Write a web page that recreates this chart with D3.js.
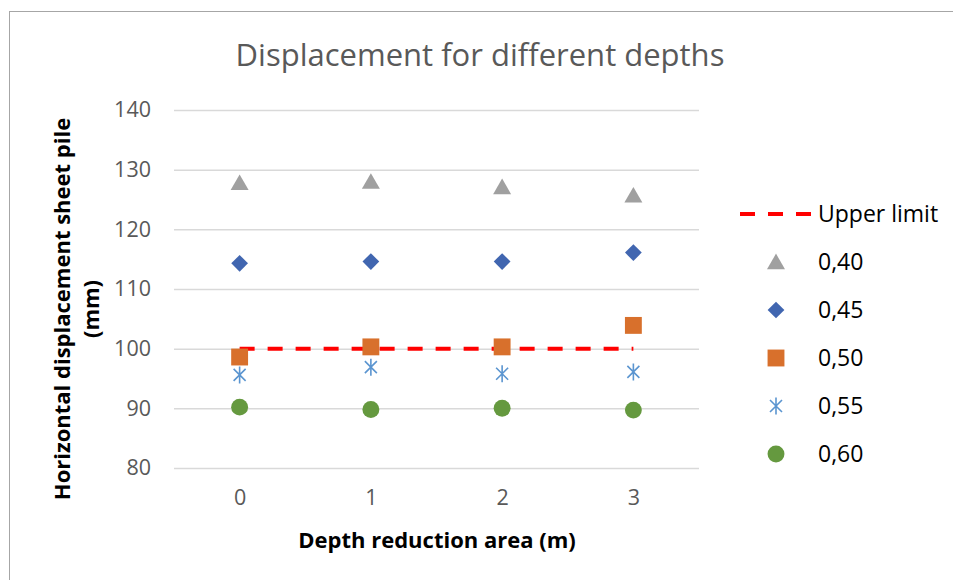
<!DOCTYPE html>
<meta charset="utf-8">
<style>
  body { margin: 0; background: #fff; }
  text { font-family: "Open Sans", "Noto Sans", sans-serif; }
</style>
<div id="chart"></div>
<script src="https://cdn.jsdelivr.net/npm/d3@7"></script>
<script>

// data
var depths = [0, 1, 2, 3];
var yTicks = [80, 90, 100, 110, 120, 130, 140];
var seriesNames = ["0,40", "0,45", "0,50", "0,55", "0,60"];
var upperLimit = [100, 100, 100, 100];
var s040 = [127.8, 128.0, 127.1, 125.7];
var s045 = [114.3, 114.6, 114.6, 116.1];
var s050 = [98.6, 100.3, 100.3, 103.9];
var s055 = [95.6, 96.9, 95.8, 96.1];
var s060 = [90.2, 89.8, 90.0, 89.7];

var series = [
  {name: seriesNames[0], values: s040, shape: "triangle", color: "#a0a0a0"},
  {name: seriesNames[1], values: s045, shape: "diamond",  color: "#4166b0"},
  {name: seriesNames[2], values: s050, shape: "square",   color: "#d8702c"},
  {name: seriesNames[3], values: s055, shape: "star",     color: "#5b95d0"},
  {name: seriesNames[4], values: s060, shape: "circle",   color: "#65993f"}
];

var W = 953, H = 580;
var plot = {left: 174, right: 699, top: 110, bottom: 468};

var svg = d3.select("#chart").append("svg")
    .attr("width", W)
    .attr("height", H);

// chart frame (only top & left edges show in the crop)
svg.append("rect")
    .attr("x", 9.5).attr("y", 11.5)
    .attr("width", W + 20).attr("height", H + 20)
    .attr("fill", "#fff")
    .attr("stroke", "#a6a6a6")
    .attr("stroke-width", 1);

var x = d3.scalePoint()
    .domain(depths)
    .range([plot.left, plot.right])
    .padding(0.5);

var y = d3.scaleLinear()
    .domain([80, 140])
    .range([plot.bottom, plot.top]);

// y axis: gridlines + labels
var yAxis = svg.append("g")
    .attr("transform", "translate(" + plot.left + ",0)")
    .call(d3.axisLeft(y).tickValues(yTicks).tickSize(-(plot.right - plot.left)).tickPadding(23));
yAxis.select(".domain").remove();
yAxis.selectAll(".tick line").attr("stroke", "#d9d9d9").attr("stroke-width", 1.5);
yAxis.selectAll(".tick text")
    .attr("fill", "#595959")
    .style("font-size", "21.5px")
    .style("font-family", "'Open Sans', sans-serif");

// x axis: labels only
var xAxis = svg.append("g")
    .attr("transform", "translate(0," + plot.bottom + ")")
    .call(d3.axisBottom(x).tickSize(0).tickPadding(22));
xAxis.select(".domain").remove();
xAxis.selectAll(".tick text")
    .attr("fill", "#595959")
    .style("font-size", "21.5px")
    .style("font-family", "'Open Sans', sans-serif");

// title
svg.append("text")
    .attr("x", 480).attr("y", 66)
    .attr("text-anchor", "middle")
    .attr("fill", "#595959")
    .style("font-size", "31px")
    .text("Displacement for different depths");

// axis titles
svg.append("text")
    .attr("x", 437).attr("y", 548)
    .attr("text-anchor", "middle")
    .attr("fill", "#000")
    .style("font-size", "22px")
    .style("font-weight", "bold")
    .text("Depth reduction area (m)");

var yt = svg.append("text")
    .attr("transform", "translate(70,309) rotate(-90)")
    .attr("text-anchor", "middle")
    .attr("fill", "#000")
    .style("font-size", "22px")
    .style("font-weight", "bold");
yt.append("tspan").attr("x", 0).attr("y", 0).text("Horizontal displacement sheet pile");
yt.append("tspan").attr("x", 0).attr("y", 29).text("(mm)");

// marker shapes
function markerPath(shape) {
  if (shape === "star") {
    var r = 8.5, d = 6;
    return "M0," + (-r) + "L0," + r +
      "M" + (-d) + "," + (-d) + "L" + d + "," + d +
      "M" + (-d) + "," + d + "L" + d + "," + (-d);
  }
  var types = {triangle: d3.symbolTriangle, diamond: d3.symbolSquare, square: d3.symbolSquare, circle: d3.symbolCircle};
  var sizes = {triangle: 140, diamond: 140, square: 285, circle: 225};
  return d3.symbol().type(types[shape]).size(sizes[shape])();
}

function drawMarker(g, s) {
  var p = g.append("path").attr("d", markerPath(s.shape));
  if (s.shape === "star") {
    p.attr("fill", "none").attr("stroke", s.color).attr("stroke-width", 1.6);
  } else {
    p.attr("fill", s.color);
  }
  if (s.shape === "diamond") p.attr("transform", "rotate(45)");
  if (s.shape === "triangle") p.attr("transform", "translate(0,2)");
  return p;
}

// upper limit line
svg.append("path")
    .datum(upperLimit)
    .attr("fill", "none")
    .attr("stroke", "#ff0000")
    .attr("stroke-width", 4)
    .attr("stroke-dasharray", "15,13")
    .attr("d", d3.line()
      .x(function(d, i) { return x(depths[i]); })
      .y(function(d) { return y(d); }));

// series markers
series.forEach(function(s) {
  svg.append("g").selectAll("g")
    .data(s.values)
    .enter()
    .append("g")
      .attr("transform", function(d, i) { return "translate(" + x(depths[i]) + "," + y(d) + ")"; })
      .each(function() { drawMarker(d3.select(this), s); });
});

// legend
var legend = svg.append("g").attr("transform", "translate(740,214)");
legend.append("line")
    .attr("x1", 0).attr("x2", 71).attr("y1", 0).attr("y2", 0)
    .attr("stroke", "#ff0000").attr("stroke-width", 4)
    .attr("stroke-dasharray", "15,13");
legend.append("text")
    .attr("x", 78).attr("y", 8)
    .attr("fill", "#000")
    .style("font-size", "23px")
    .text("Upper limit");

series.forEach(function(s, i) {
  var row = legend.append("g").attr("transform", "translate(36," + (48 * (i + 1)) + ")");
  drawMarker(row, s);
  row.append("text")
      .attr("x", 42).attr("y", 8)
      .attr("fill", "#000")
      .style("font-size", "23px")
      .text(s.name);
});

</script>
